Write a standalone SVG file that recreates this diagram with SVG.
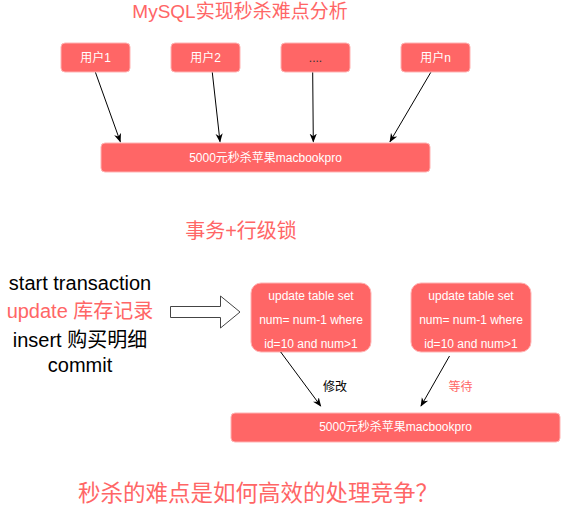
<svg xmlns="http://www.w3.org/2000/svg" width="561" height="508" viewBox="0 0 561 508">
<defs>
<style>
.t{font-family:"Liberation Sans","Noto Sans CJK SC",sans-serif;}
.box{fill:#FF6666;stroke:#FFB3B3;stroke-width:1;}
.wl{fill:#FFFFFF;font-size:12px;text-anchor:middle;}
.red{fill:#FF6666;}
.ln{stroke:#000;stroke-width:1;fill:none;marker-end:url(#ah);}
</style>
<marker id="ah" viewBox="0 0 10 10" refX="9" refY="5" markerWidth="9" markerHeight="9" markerUnits="userSpaceOnUse" orient="auto">
<path d="M0,1 L10,5 L0,9 L3,5 Z" fill="#000"/>
</marker>
</defs>
<rect width="561" height="508" fill="#FFFFFF"/>
<text class="t red" x="240" y="18" font-size="19" text-anchor="middle">MySQL实现秒杀难点分析</text>
<g id="user1"><rect class="box" x="61" y="43" width="69" height="29" rx="4"/><text class="t wl" x="95.5" y="62">用户1</text></g>
<g id="user2"><rect class="box" x="171" y="43" width="69" height="29" rx="4"/><text class="t wl" x="205.5" y="62">用户2</text></g>
<g id="userdots"><rect class="box" x="281" y="43" width="69" height="29" rx="4"/><text class="t" x="315.5" y="62" font-size="12" text-anchor="middle" fill="#333">....</text></g>
<g id="usern"><rect class="box" x="401" y="43" width="69" height="29" rx="4"/><text class="t wl" x="435.5" y="62">用户n</text></g>
<g id="item1"><rect class="box" x="101" y="143" width="329" height="29" rx="4"/><text class="t wl" x="265.5" y="162">5000元秒杀苹果macbookpro</text></g>
<text class="t red" x="241" y="238" font-size="20" text-anchor="middle">事务+行级锁</text>
<g id="sql" class="t" font-size="20" text-anchor="middle">
<text x="80" y="289.5" fill="#000">start transaction</text>
<text x="80" y="318" class="red">update 库存记录</text>
<text x="80" y="347" fill="#000">insert 购买明细</text>
<text x="80" y="372" fill="#000">commit</text>
</g>
<g id="bigarrow"><polygon points="170.5,306.5 220.5,306.5 220.5,296 240,312 220.5,328 220.5,317.5 170.5,317.5" fill="#FFFFFF" stroke="#444" stroke-width="1"/></g>
<g id="upd1"><rect class="box" x="251" y="283" width="120" height="69" rx="10"/>
<text class="t wl" x="311" y="300">update table set</text>
<text class="t wl" x="311" y="324">num= num-1 where</text>
<text class="t wl" x="311" y="348">id=10 and num&gt;1</text></g>
<g id="upd2"><rect class="box" x="411" y="283" width="120" height="69" rx="10"/>
<text class="t wl" x="471" y="300">update table set</text>
<text class="t wl" x="471" y="324">num= num-1 where</text>
<text class="t wl" x="471" y="348">id=10 and num&gt;1</text></g>
<g id="item2"><rect class="box" x="231" y="413" width="329" height="29" rx="4"/><text class="t wl" x="395.5" y="431">5000元秒杀苹果macbookpro</text></g>
<g id="connectors">
<line class="ln" x1="95.5" y1="72.5" x2="120.3" y2="141.7"/>
<line class="ln" x1="212.3" y1="72.5" x2="220" y2="141.7"/>
<line class="ln" x1="312.7" y1="72.5" x2="313.3" y2="141.7"/>
<line class="ln" x1="430.7" y1="72.5" x2="390" y2="141.7"/>
<line class="ln" x1="280.7" y1="352" x2="320.7" y2="406"/>
<line class="ln" x1="449.5" y1="356" x2="421" y2="406"/>
<text class="t" x="323" y="391" font-size="12" fill="#000">修改</text>
<text class="t red" x="448.5" y="391" font-size="12">等待</text>
</g>
<text class="t red" x="78" y="501" font-size="22.5">秒杀的难点是如何高效的处理竞争？</text>
</svg>
